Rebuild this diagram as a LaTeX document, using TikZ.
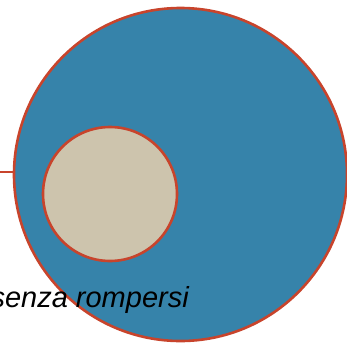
\documentclass[tikz,border=0pt]{standalone}
\usepackage{fontspec}
\setmainfont{Liberation Sans}
\definecolor{rim}{HTML}{C8442C}
\definecolor{bigfill}{HTML}{3683AA}
\definecolor{smallfill}{HTML}{CDC4AD}
\tikzset{
  ring/.style={circle, draw=rim, line width=2.6pt, inner sep=0pt},
  lbl/.style={font=\itshape\fontsize{29}{34}\selectfont, inner sep=0pt, text=black}
}
\begin{document}
\begin{tikzpicture}[x=1pt,y=-1pt]
\useasboundingbox (0,0) rectangle (347,343);
\clip (0,0) rectangle (347,343);
\node[ring, fill=bigfill, minimum size=333pt] (big) at (180.5,174.5) {};
\node[ring, fill=smallfill, minimum size=134pt] (small) at (110,194) {};
\coordinate (lineend) at (-5,172);
\draw[rim, line width=2.6pt] (lineend) -- (big.west |- lineend);
\node[lbl, anchor=base east] (txt) at (189,307) {senza rompersi};
\end{tikzpicture}
\end{document}
